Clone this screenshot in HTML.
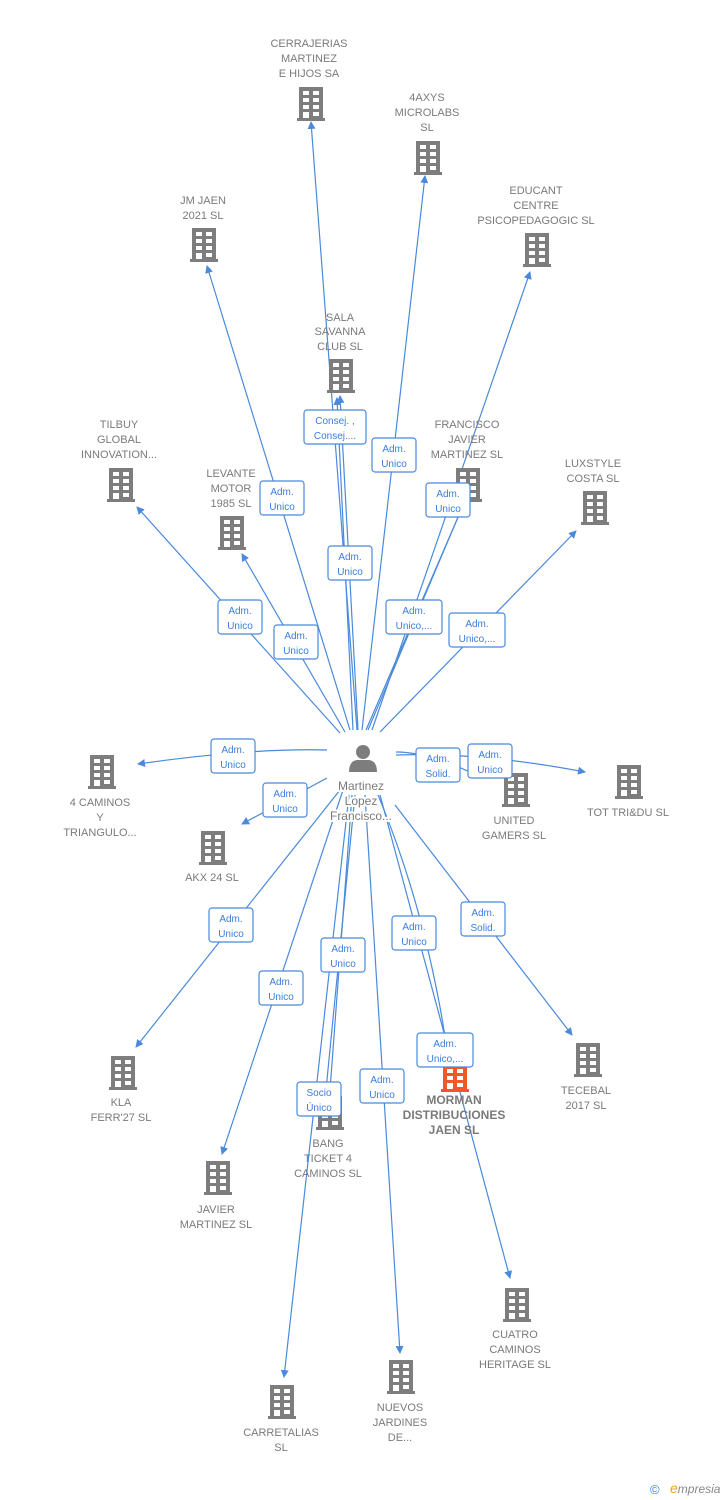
<!DOCTYPE html>
<html><head><meta charset="utf-8"><style>
body{margin:0;background:#fff;}
svg{display:block;font-family:"Liberation Sans",Arial,sans-serif;}
.t{font-size:11px;fill:#7a7a7a;text-anchor:middle;}
.tb{font-size:12px;fill:#7a7a7a;text-anchor:middle;font-weight:bold;}
.p{font-size:12px;fill:#7a7a7a;text-anchor:middle;stroke:#fff;stroke-width:4px;paint-order:stroke;stroke-linejoin:round;}
.l{stroke:#4a89dc;stroke-width:1.2;fill:none;}
.bx{fill:#fff;stroke:#4a89dc;stroke-width:1.2;}
.bt{font-size:10px;fill:#3b7ddd;text-anchor:middle;}
</style></head><body>
<svg width="728" height="1500" viewBox="0 0 728 1500" xmlns="http://www.w3.org/2000/svg">
<defs>
<symbol id="b" viewBox="0 0 28 34">
<rect x="2" y="0" width="24" height="31" fill="#7d7d7d"/>
<rect x="0" y="31" width="28" height="3" fill="#7d7d7d"/>
<g fill="#fff">
<rect x="6" y="4" width="6" height="4"/><rect x="16" y="4" width="6" height="4"/>
<rect x="6" y="11" width="6" height="4"/><rect x="16" y="11" width="6" height="4"/>
<rect x="6" y="18" width="6" height="4"/><rect x="16" y="18" width="6" height="4"/>
<rect x="6" y="25" width="6" height="6"/><rect x="16" y="25" width="6" height="4"/>
</g></symbol>
<symbol id="bo" viewBox="0 0 28 34">
<rect x="2" y="0" width="24" height="31" fill="#f0582a"/>
<rect x="0" y="31" width="28" height="3" fill="#f0582a"/>
<g fill="#fff">
<rect x="6" y="4" width="6" height="4"/><rect x="16" y="4" width="6" height="4"/>
<rect x="6" y="11" width="6" height="4"/><rect x="16" y="11" width="6" height="4"/>
<rect x="6" y="18" width="6" height="4"/><rect x="16" y="18" width="6" height="4"/>
<rect x="6" y="25" width="6" height="6"/><rect x="16" y="25" width="6" height="4"/>
</g></symbol>
<marker id="a" markerWidth="8" markerHeight="8" refX="7" refY="4" orient="auto" markerUnits="userSpaceOnUse">
<path d="M0,0 L8,4 L0,8 z" fill="#4a89dc"/></marker>
</defs>

<g class="l" marker-end="url(#a)">
<line x1="357" y1="730" x2="311" y2="122"/>
<line x1="362" y1="730" x2="425" y2="176"/>
<line x1="372" y1="730" x2="530" y2="272"/>
<line x1="350" y1="730" x2="207" y2="266"/>
<line x1="358" y1="730" x2="340" y2="396"/>
<path d="M353,730 L337,398"/>
<line x1="340" y1="733" x2="137" y2="507"/>
<line x1="345" y1="732" x2="242" y2="554"/>
<line x1="366" y1="730" x2="462" y2="508"/>
<path d="M368,730 L464,503"/>
<line x1="380" y1="732" x2="576" y2="531"/>
<path d="M327,750 Q250,748 138,764"/>
<line x1="327" y1="778" x2="242" y2="824"/>
<path d="M396,752 Q430,752 478,776"/>
<path d="M396,755 Q480,752 585,772"/>
<line x1="340" y1="790" x2="136" y2="1047"/>
<line x1="343" y1="790" x2="222" y2="1154"/>
<line x1="352" y1="795" x2="330" y2="1090"/>
<line x1="355" y1="795" x2="326" y2="1090"/>
<line x1="395" y1="805" x2="572" y2="1035"/>
<line x1="380" y1="795" x2="510" y2="1278"/>
<path d="M378,795 Q430,920 450,1070"/>
<line x1="349" y1="795" x2="284" y2="1377"/>
<line x1="365" y1="795" x2="400" y2="1353"/>
</g>

<!-- person -->
<g fill="#7d7d7d"><circle cx="363" cy="752" r="7"/><path d="M349,772 Q349,761 357,760 L369,760 Q377,761 377,772 z"/></g>
<text class="p" x="361" y="790">Martinez</text>
<text class="p" x="361" y="805">Lopez</text>
<text class="p" x="361" y="820">Francisco...</text>

<!-- buildings -->
<use href="#b" x="297" y="87" width="28" height="34"/>
<use href="#b" x="414" y="141" width="28" height="34"/>
<use href="#b" x="523" y="233" width="28" height="34"/>
<use href="#b" x="190" y="228" width="28" height="34"/>
<use href="#b" x="327" y="359" width="28" height="34"/>
<use href="#b" x="107" y="468" width="28" height="34"/>
<use href="#b" x="218" y="516" width="28" height="34"/>
<use href="#b" x="454" y="468" width="28" height="34"/>
<use href="#b" x="581" y="491" width="28" height="34"/>
<use href="#b" x="88" y="755" width="28" height="34"/>
<use href="#b" x="199" y="831" width="28" height="34"/>
<use href="#b" x="502" y="773" width="28" height="34"/>
<use href="#b" x="615" y="765" width="28" height="34"/>
<use href="#b" x="109" y="1056" width="28" height="34"/>
<use href="#b" x="204" y="1161" width="28" height="34"/>
<use href="#b" x="316" y="1096" width="28" height="34"/>
<use href="#bo" x="441" y="1058" width="28" height="34"/>
<use href="#b" x="574" y="1043" width="28" height="34"/>
<use href="#b" x="503" y="1288" width="28" height="34"/>
<use href="#b" x="268" y="1385" width="28" height="34"/>
<use href="#b" x="387" y="1360" width="28" height="34"/>

<!-- labels -->
<text class="t" x="309" y="47">CERRAJERIAS</text><text class="t" x="309" y="62">MARTINEZ</text><text class="t" x="309" y="77">E HIJOS SA</text>
<text class="t" x="427" y="101">4AXYS</text><text class="t" x="427" y="116">MICROLABS</text><text class="t" x="427" y="131">SL</text>
<text class="t" x="536" y="194">EDUCANT</text><text class="t" x="536" y="209">CENTRE</text><text class="t" x="536" y="224">PSICOPEDAGOGIC SL</text>
<text class="t" x="203" y="204">JM JAEN</text><text class="t" x="203" y="219">2021  SL</text>
<text class="t" x="340" y="321">SALA</text><text class="t" x="340" y="335">SAVANNA</text><text class="t" x="340" y="350">CLUB  SL</text>
<text class="t" x="119" y="428">TILBUY</text><text class="t" x="119" y="443">GLOBAL</text><text class="t" x="119" y="458">INNOVATION...</text>
<text class="t" x="231" y="477">LEVANTE</text><text class="t" x="231" y="492">MOTOR</text><text class="t" x="231" y="507">1985  SL</text>
<text class="t" x="467" y="428">FRANCISCO</text><text class="t" x="467" y="443">JAVIER</text><text class="t" x="467" y="458">MARTINEZ  SL</text>
<text class="t" x="593" y="467">LUXSTYLE</text><text class="t" x="593" y="482">COSTA SL</text>
<text class="t" x="100" y="806">4 CAMINOS</text><text class="t" x="100" y="821">Y</text><text class="t" x="100" y="836">TRIANGULO...</text>
<text class="t" x="212" y="881">AKX 24  SL</text>
<text class="t" x="514" y="824">UNITED</text><text class="t" x="514" y="839">GAMERS  SL</text>
<text class="t" x="628" y="816">TOT TRI&amp;DU SL</text>
<text class="t" x="121" y="1106">KLA</text><text class="t" x="121" y="1121">FERR'27  SL</text>
<text class="t" x="216" y="1213">JAVIER</text><text class="t" x="216" y="1228">MARTINEZ  SL</text>
<text class="t" x="328" y="1147">BANG</text><text class="t" x="328" y="1162">TICKET 4</text><text class="t" x="328" y="1177">CAMINOS  SL</text>
<text class="tb" x="454" y="1104">MORMAN</text><text class="tb" x="454" y="1119">DISTRIBUCIONES</text><text class="tb" x="454" y="1134">JAEN  SL</text>
<text class="t" x="586" y="1094">TECEBAL</text><text class="t" x="586" y="1109">2017  SL</text>
<text class="t" x="515" y="1338">CUATRO</text><text class="t" x="515" y="1353">CAMINOS</text><text class="t" x="515" y="1368">HERITAGE  SL</text>
<text class="t" x="281" y="1436">CARRETALIAS</text><text class="t" x="281" y="1451">SL</text>
<text class="t" x="400" y="1411">NUEVOS</text><text class="t" x="400" y="1426">JARDINES</text><text class="t" x="400" y="1441">DE...</text>

<!-- role boxes -->
<g>
<rect class="bx" x="304" y="410" width="62" height="34" rx="3"/><text class="bt" x="335" y="424">Consej. ,</text><text class="bt" x="335" y="439">Consej....</text>
<rect class="bx" x="372" y="438" width="44" height="34" rx="3"/><text class="bt" x="394" y="452">Adm.</text><text class="bt" x="394" y="467">Unico</text>
<rect class="bx" x="260" y="481" width="44" height="34" rx="3"/><text class="bt" x="282" y="495">Adm.</text><text class="bt" x="282" y="510">Unico</text>
<rect class="bx" x="426" y="483" width="44" height="34" rx="3"/><text class="bt" x="448" y="497">Adm.</text><text class="bt" x="448" y="512">Unico</text>
<rect class="bx" x="328" y="546" width="44" height="34" rx="3"/><text class="bt" x="350" y="560">Adm.</text><text class="bt" x="350" y="575">Unico</text>
<rect class="bx" x="218" y="600" width="44" height="34" rx="3"/><text class="bt" x="240" y="614">Adm.</text><text class="bt" x="240" y="629">Unico</text>
<rect class="bx" x="274" y="625" width="44" height="34" rx="3"/><text class="bt" x="296" y="639">Adm.</text><text class="bt" x="296" y="654">Unico</text>
<rect class="bx" x="386" y="600" width="56" height="34" rx="3"/><text class="bt" x="414" y="614">Adm.</text><text class="bt" x="414" y="629">Unico,...</text>
<rect class="bx" x="449" y="613" width="56" height="34" rx="3"/><text class="bt" x="477" y="627">Adm.</text><text class="bt" x="477" y="642">Unico,...</text>
<rect class="bx" x="211" y="739" width="44" height="34" rx="3"/><text class="bt" x="233" y="753">Adm.</text><text class="bt" x="233" y="768">Unico</text>
<rect class="bx" x="263" y="783" width="44" height="34" rx="3"/><text class="bt" x="285" y="797">Adm.</text><text class="bt" x="285" y="812">Unico</text>
<rect class="bx" x="416" y="748" width="44" height="34" rx="3"/><text class="bt" x="438" y="762">Adm.</text><text class="bt" x="438" y="777">Solid.</text>
<rect class="bx" x="468" y="744" width="44" height="34" rx="3"/><text class="bt" x="490" y="758">Adm.</text><text class="bt" x="490" y="773">Unico</text>
<rect class="bx" x="209" y="908" width="44" height="34" rx="3"/><text class="bt" x="231" y="922">Adm.</text><text class="bt" x="231" y="937">Unico</text>
<rect class="bx" x="461" y="902" width="44" height="34" rx="3"/><text class="bt" x="483" y="916">Adm.</text><text class="bt" x="483" y="931">Solid.</text>
<rect class="bx" x="321" y="938" width="44" height="34" rx="3"/><text class="bt" x="343" y="952">Adm.</text><text class="bt" x="343" y="967">Unico</text>
<rect class="bx" x="392" y="916" width="44" height="34" rx="3"/><text class="bt" x="414" y="930">Adm.</text><text class="bt" x="414" y="945">Unico</text>
<rect class="bx" x="259" y="971" width="44" height="34" rx="3"/><text class="bt" x="281" y="985">Adm.</text><text class="bt" x="281" y="1000">Unico</text>
<rect class="bx" x="417" y="1033" width="56" height="34" rx="3"/><text class="bt" x="445" y="1047">Adm.</text><text class="bt" x="445" y="1062">Unico,...</text>
<rect class="bx" x="297" y="1082" width="44" height="34" rx="3"/><text class="bt" x="319" y="1096">Socio</text><text class="bt" x="319" y="1111">Único</text>
<rect class="bx" x="360" y="1069" width="44" height="34" rx="3"/><text class="bt" x="382" y="1083">Adm.</text><text class="bt" x="382" y="1098">Unico</text>
</g>

<text x="650" y="1494" style="font-size:13px;fill:#3b7ddd">©</text>
<text x="670" y="1493" style="font-size:12px;fill:#888;font-style:italic"><tspan fill="#f0a020" font-size="14">e</tspan>mpresia</text>
</svg>
</body></html>
